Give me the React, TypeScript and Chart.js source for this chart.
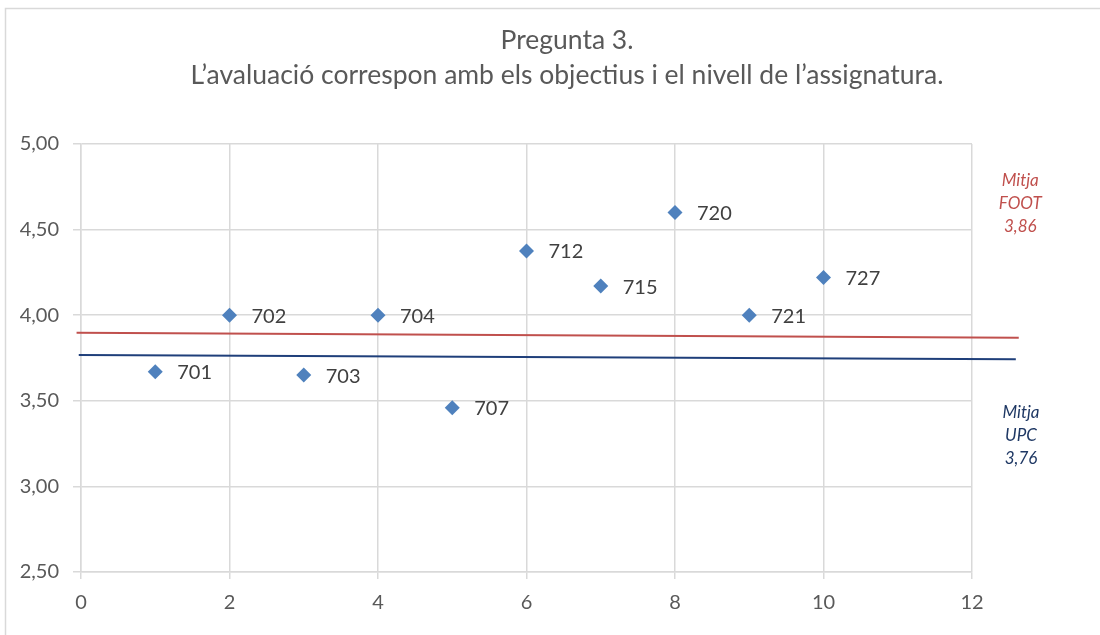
import React, { useEffect, useRef } from "react";
import { Chart, registerables } from "chart.js";

Chart.register(...registerables);

const titleLines = ["Pregunta 3.", "L\u2019avaluació correspon amb els objectius i el nivell de l\u2019assignatura."];

const xValues = [1, 2, 3, 4, 5, 6, 7, 8, 9, 10];
const yValues = [3.67, 4.0, 3.65, 4.0, 3.46, 4.375, 4.17, 4.6, 4.0, 4.22];
const pointLabels = ["701", "702", "703", "704", "707", "712", "715", "720", "721", "727"];

const footLineX = [-0.06, 12.63];
const footLineY = [3.898, 3.869];
const upcLineX = [-0.03, 12.59];
const upcLineY = [3.768, 3.742];

const footNote = ["Mitja", "FOOT", "3,86"];
const footNoteAt = { x: 12.65, y: 4.65 };
const upcNote = ["Mitja", "UPC", "3,76"];
const upcNoteAt = { x: 12.66, y: 3.3 };

const xMin = 0;
const xMax = 12;
const xStep = 2;
const yMin = 2.5;
const yMax = 5.0;
const yStep = 0.5;

const FONT = "Lato, 'Open Sans', sans-serif";
const GRID = "#d9d9d9";

export default function App() {
  const ref = useRef<HTMLCanvasElement>(null);

  useEffect(() => {
    if (!ref.current) return;

    const frame = {
      id: "frame",
      beforeDraw(chart: any) {
        const ctx = chart.ctx;
        ctx.save();
        ctx.fillStyle = "#ffffff";
        ctx.fillRect(0, 0, chart.width, chart.height);
        ctx.strokeStyle = GRID;
        ctx.lineWidth = 1.5;
        ctx.strokeRect(5.5, 8.5, 1300, 800);
        // title
        ctx.font = `26.5px ${FONT}`;
        ctx.fillStyle = "#595959";
        ctx.textAlign = "center";
        ctx.textBaseline = "middle";
        ctx.fillText(titleLines[0], 567, 40);
        ctx.fillText(titleLines[1], 567, 75);
        ctx.restore();
      },
    };

    const labelsPlugin = {
      id: "pointLabels",
      afterDatasetsDraw(chart: any) {
        const ctx = chart.ctx;
        const meta = chart.getDatasetMeta(0);
        ctx.save();
        ctx.font = `20px ${FONT}`;
        ctx.fillStyle = "#404040";
        ctx.textAlign = "left";
        ctx.textBaseline = "middle";
        meta.data.forEach((el: any, i: number) => {
          ctx.fillText(pointLabels[i], el.x + 22, el.y + 1);
        });
        const xs = chart.scales.x;
        const ys = chart.scales.y;
        const drawNote = (lines: string[], at: { x: number; y: number }, color: string) => {
          ctx.font = `italic 17px ${FONT}`;
          ctx.fillStyle = color;
          ctx.textAlign = "center";
          const cx = xs.getPixelForValue(at.x);
          const cy = ys.getPixelForValue(at.y);
          lines.forEach((t, i) => ctx.fillText(t, cx, cy + (i - 1) * 23));
        };
        drawNote(footNote, footNoteAt, "#C0504D");
        drawNote(upcNote, upcNoteAt, "#1F3864");
        ctx.restore();
      },
    };

    const chart = new Chart(ref.current, {
      type: "scatter",
      data: {
        datasets: [
          {
            label: "Assignatures",
            data: xValues.map((x, i) => ({ x, y: yValues[i] })),
            pointStyle: "rectRot",
            pointRadius: 7.5,
            pointHoverRadius: 7.5,
            backgroundColor: "#4F81BD",
            borderColor: "#4F81BD",
            borderWidth: 0,
          },
          {
            label: "Mitja FOOT",
            data: footLineX.map((x, i) => ({ x, y: footLineY[i] })),
            showLine: true,
            pointRadius: 0,
            borderColor: "#C0504D",
            borderWidth: 2,
            clip: false as any,
          },
          {
            label: "Mitja UPC",
            data: upcLineX.map((x, i) => ({ x, y: upcLineY[i] })),
            showLine: true,
            pointRadius: 0,
            borderColor: "#1F3F7A",
            borderWidth: 2,
            clip: false as any,
          },
        ],
      },
      options: {
        animation: false,
        responsive: false,
        devicePixelRatio: 1,
        layout: { padding: { left: 0, right: 128, top: 144, bottom: 0 } },
        plugins: {
          legend: { display: false },
          tooltip: { enabled: false },
          title: { display: false },
        },
        scales: {
          x: {
            type: "linear",
            min: xMin,
            max: xMax,
            afterFit(scale: any) {
              scale.height = 63;
            },
            ticks: {
              stepSize: xStep,
              color: "#595959",
              font: { family: FONT, size: 20 },
              padding: 12,
              maxRotation: 0,
            },
            grid: { color: GRID, lineWidth: 1.5, tickLength: 7, tickColor: GRID },
            border: { color: GRID, width: 1.5 },
          },
          y: {
            type: "linear",
            min: yMin,
            max: yMax,
            afterFit(scale: any) {
              scale.width = 81;
            },
            ticks: {
              stepSize: yStep,
              color: "#595959",
              font: { family: FONT, size: 20 },
              padding: 14,
              callback: (v: any) => Number(v).toFixed(2).replace(".", ","),
            },
            grid: { color: GRID, lineWidth: 1.5, tickLength: 8, tickColor: GRID },
            border: { color: GRID, width: 1.5 },
          },
        },
      },
      plugins: [frame, labelsPlugin],
    });

    return () => chart.destroy();
  }, []);

  return (
    <div style={{ position: "fixed", left: 0, top: 0, width: 1100, height: 635, background: "#fff" }}>
      <canvas ref={ref} width={1100} height={635} style={{ display: "block", width: 1100, height: 635 }} />
    </div>
  );
}
